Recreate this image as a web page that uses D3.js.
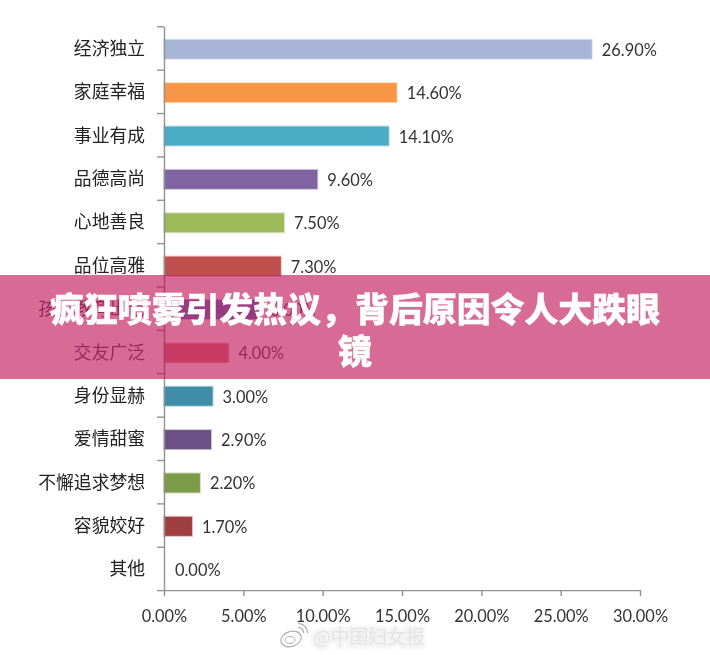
<!DOCTYPE html>
<html>
<head>
<meta charset="utf-8">
<script src="https://cdn.jsdelivr.net/npm/d3@7"></script>
<style>
    html, body { margin: 0; padding: 0; background: #fff; }
    svg { display: block; }
    .soft { filter: blur(0.4px); }
    .cat { font-family: "Noto Sans CJK SC"; font-size: 17.8px; fill: #222; }
    .val { font-family: "Lato", "Open Sans"; font-size: 16.4px; fill: #333; }
    .under { fill: #5a5a6a; }
    .banner-title { font-family: "Noto Sans CJK SC"; font-size: 33.9px; font-weight: 900; fill: #fff; stroke: #fff; stroke-width: 0.4px; }
    .mark-halo { font-family: "Noto Sans CJK SC"; font-size: 18.5px; fill: #f3f3f3; stroke: #f3f3f3; stroke-width: 6px; filter: blur(1.5px); }
    .mark { font-family: "Noto Sans CJK SC"; font-size: 18.8px; fill: #e4e4e4; }
</style>
</head>
<body>
<svg id="chart" width="710" height="655"></svg>
<script>
    var categories = ["经济独立", "家庭幸福", "事业有成", "品德高尚", "心地善良", "品位高雅", "孩子教育出色",
        "交友广泛", "身份显赫", "爱情甜蜜", "不懈追求梦想", "容貌姣好", "其他"];
    var values = [26.9, 14.6, 14.1, 9.6, 7.5, 7.3, 6.0, 4.0, 3.0, 2.9, 2.2, 1.7, 0];
    var barColors = ["#a7b6d6", "#f79646", "#4bacc6", "#8064a2", "#9bbb59", "#c0504d", "#5f88c8",
        "#d4857f", "#3f8ea8", "#6b4f85", "#7c9c48", "#a03f42", "#999999"];
    var xTicks = [0, 5, 10, 15, 20, 25, 30];
    var titleLines = ["疯狂喷雾引发热议，背后原因令人大跌眼", "镜"];
    var underBanner = ["孩子教育出色", "交友广泛"];

    var svg = d3.select("#chart"),
        plot = svg.append("g").attr("class", "soft");

    var x = d3.scaleLinear().domain([0, 30]).range([164, 640]),
        y = d3.scaleBand().domain(categories).range([26.3, 590.1]);

    function mid(d) {
        return y(d) + y.bandwidth() / 2;
    }

    // bars go first so the axis line sits on top
    plot.selectAll("rect.bar")
        .data(categories)
        .enter().append("rect")
        .attr("class", "bar")
        .attr("x", x(0))
        .attr("y", function (d) { return mid(d) + 1.3 - 9.5; })
        .attr("width", function (d, i) { return values[i] ? x(values[i]) - x(0) + 1 : 0; })
        .attr("height", 19)
        .attr("fill", function (d, i) { return barColors[i]; })
        .attr("stroke", function (d, i) { return values[i] ? barColors[i] : "none"; })
        .attr("stroke-opacity", 0.35)
        .attr("stroke-width", 2);

    var axisX = plot.append("g")
        .attr("transform", "translate(0,590.1)")
        .call(d3.axisBottom(x).tickValues(xTicks).tickSize(6).tickSizeOuter(0)
            .tickFormat(function (d) { return d3.format(".2f")(d) + "%"; }));
    axisX.selectAll("text").attr("class", "val").attr("y", 25).attr("dy", "0").attr("dominant-baseline", "central");

    plot.append("g")
        .attr("transform", "translate(164,0)")
        .call(d3.axisLeft(d3.scaleLinear().domain([0, 13]).range([26.3, 590.1])).ticks(13).tickSize(7).tickSizeOuter(0).tickFormat(""));

    plot.selectAll(".domain, .tick line").attr("stroke", "#929292").attr("stroke-width", 1.4);

    plot.selectAll("text.cat")
        .data(categories)
        .enter().append("text")
        .attr("class", function (d) { return "cat" + (underBanner.indexOf(d) >= 0 ? " under" : ""); })
        .attr("x", 145)
        .attr("y", function (d) { return mid(d) - 1; })
        .attr("text-anchor", "end")
        .attr("dominant-baseline", "central")
        .text(function (d) { return d; });

    plot.selectAll("text.barval")
        .data(categories)
        .enter().append("text")
        .attr("class", function (d) { return "val barval" + (underBanner.indexOf(d) >= 0 ? " under" : ""); })
        .attr("x", function (d, i) { return x(values[i]) + 11; })
        .attr("y", function (d) { return mid(d) + 1.3; })
        .attr("dominant-baseline", "central")
        .text(function (d, i) { return d3.format(".2f")(values[i]) + "%"; });

    // weibo watermark
    var mark = svg.append("g");
    mark.append("text").attr("class", "mark-halo").attr("x", 313).attr("y", 644).text("@中国妇女报");
    mark.append("text").attr("class", "mark").attr("x", 313).attr("y", 644).text("@中国妇女报");
    mark.append("ellipse").attr("cx", 291).attr("cy", 639).attr("rx", 10.5).attr("ry", 7.5)
        .attr("transform", "rotate(-18 291 639)")
        .attr("fill", "none").attr("stroke", "#b0b0b0").attr("stroke-width", 1.2);
    mark.append("ellipse").attr("cx", 290).attr("cy", 640).attr("rx", 5).attr("ry", 3.5)
        .attr("fill", "none").attr("stroke", "#b0b0b0").attr("stroke-width", 1);
    [5, 9].forEach(function (r) {
        mark.append("path")
            .attr("d", d3.arc()({ innerRadius: r, outerRadius: r + 1.2, startAngle: 0, endAngle: Math.PI / 2 }))
            .attr("transform", "translate(298,633)")
            .attr("fill", "#b0b0b0");
    });

    svg.append("rect").attr("x", 0).attr("y", 275).attr("width", 710).attr("height", 104)
        .attr("fill", "#be0850").attr("fill-opacity", 0.6);

    svg.selectAll("text.banner-title")
        .data(titleLines)
        .enter().append("text")
        .attr("class", "banner-title")
        .attr("x", 355)
        .attr("y", function (d, i) { return 307 + i * 42; })
        .attr("text-anchor", "middle")
        .attr("dominant-baseline", "central")
        .text(function (d) { return d; });
</script>
</body>
</html>
